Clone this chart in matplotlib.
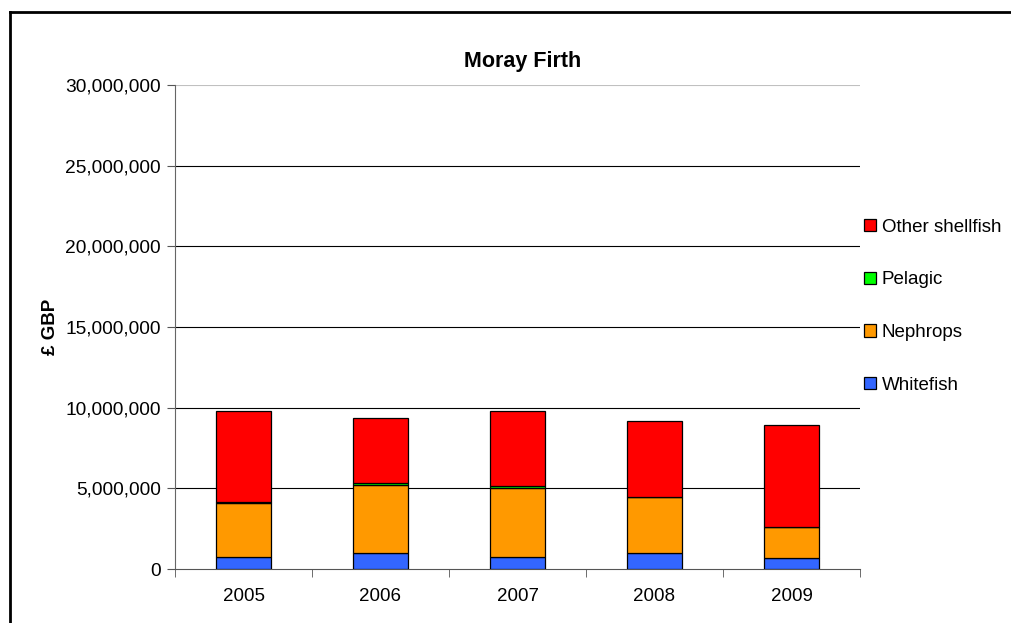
import numpy as np
import matplotlib
matplotlib.use('Agg')
import matplotlib.pyplot as plt
from matplotlib.ticker import FuncFormatter
from matplotlib.lines import Line2D

plt.rcParams['font.family'] = ['Liberation Sans', 'DejaVu Sans']

years = ['2005', '2006', '2007', '2008', '2009']
whitefish = [740000, 990000, 760000, 1010000, 700000]
nephrops = [3370000, 4210000, 4230000, 3430000, 1880000]
pelagic = [30000, 120000, 150000, 20000, 10000]
other_shellfish = [5630000, 4070000, 4650000, 4690000, 6310000]

series = [('Whitefish', whitefish, '#3366ff'),
          ('Nephrops', nephrops, '#ff9900'),
          ('Pelagic', pelagic, '#00ff00'),
          ('Other shellfish', other_shellfish, '#ff0000')]

fig = plt.figure(figsize=(10.11, 6.23), dpi=100)
ax = fig.add_axes([175/1011, 54/623, 685/1011, 484/623])

x = np.arange(len(years))
bottom = np.zeros(len(years))
handles = []
for name, vals, col in series:
    b = ax.bar(x, vals, 0.4, bottom=bottom, color=col, edgecolor='black',
               linewidth=0.9, label=name, zorder=3)
    bottom += np.array(vals)
    handles.append(b)

ax.set_xlim(-0.5, 4.5)
ax.set_ylim(0, 30000000)
ax.set_yticks(np.arange(0, 30000001, 5000000))
ax.yaxis.set_major_formatter(FuncFormatter(lambda v, p: '{:,.0f}'.format(v)))
for yv in range(5000000, 30000000, 5000000):
    ax.axhline(yv, color='black', linewidth=0.8, zorder=1)
ax.axhline(30000000, color='#c0c0c0', linewidth=0.8, zorder=1)

ax.set_xticks(x)
ax.set_xticklabels(years)
ax.set_xticks(np.arange(-0.5, 5, 1), minor=True)
ax.tick_params(axis='x', which='major', length=0, pad=14, labelsize=13.5)
ax.tick_params(axis='x', which='minor', length=6, color='#555555', direction='out')
ax.tick_params(axis='y', length=6, color='#555555', direction='out', labelsize=13.8, pad=4)

for s in ['top', 'right']:
    ax.spines[s].set_visible(False)
ax.spines['left'].set_color('#666666')
ax.spines['bottom'].set_color('#555555')

ax.set_title('Moray Firth', fontsize=15.5, fontweight='bold', pad=13, x=0.507)
ax.set_ylabel('£ GBP', fontsize=13.5, fontweight='bold', labelpad=5)

leg = ax.legend(handles[::-1], [s[0] for s in series][::-1], loc='center left',
                bbox_to_anchor=(1.0, 0.543), frameon=False, fontsize=13.5,
                handlelength=0.65, handleheight=0.65, handletextpad=0.3,
                labelspacing=1.9, borderaxespad=0.0, borderpad=0.2)

# outer chart border
fig.add_artist(Line2D([10/1011, 10/1011], [0, 1 - 12/623], color='black', linewidth=2, transform=fig.transFigure))
fig.add_artist(Line2D([10/1011, 1], [1 - 12/623, 1 - 12/623], color='black', linewidth=2, transform=fig.transFigure))

fig.savefig('out.png', dpi=100)
